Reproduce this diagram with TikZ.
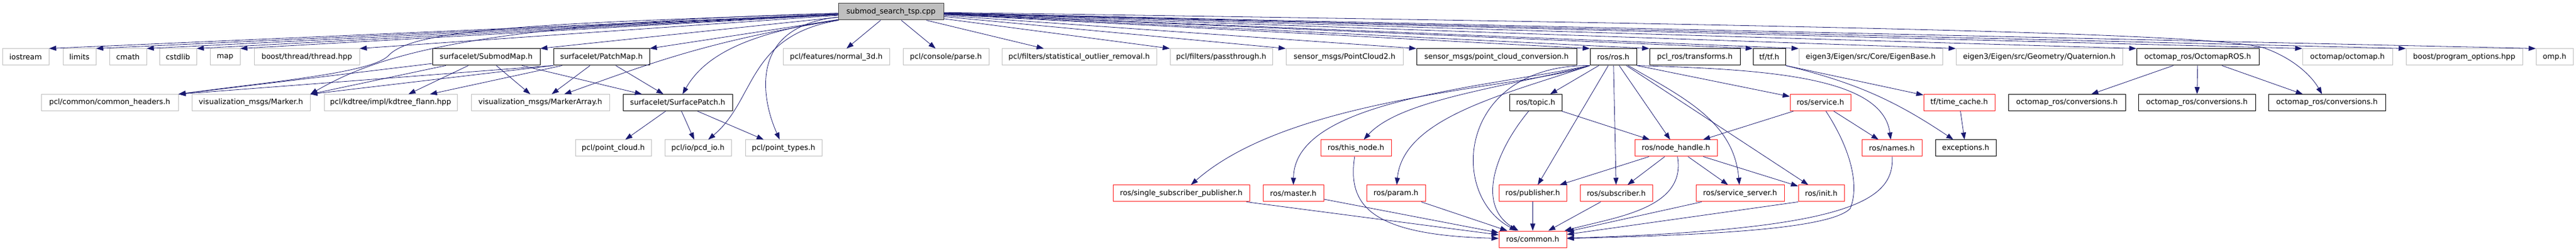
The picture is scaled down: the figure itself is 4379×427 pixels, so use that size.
\documentclass[tikz,border=0pt]{standalone}
\usepackage{fontspec}
\setmainfont{DejaVu Sans}
\usepackage{tikz}
\usetikzlibrary{arrows.meta}
\definecolor{edgeblue}{HTML}{191970}
\definecolor{extgrey}{HTML}{BFBFBF}
\definecolor{missred}{HTML}{FF2020}
\definecolor{rootfill}{HTML}{BFBFBF}
\definecolor{rootline}{HTML}{404040}
\newcommand{\dxfont}{\fontsize{12.6}{15}\selectfont}

\begin{document}
\begin{tikzpicture}[x=1pt,y=-1pt]
\tikzstyle{ext}=[rectangle,draw=extgrey,fill=white,line width=1pt,
minimum height=28pt,inner sep=2pt,font=\dxfont]
\tikzstyle{known}=[ext,draw=black]
\tikzstyle{miss}=[ext,draw=missred]
\tikzstyle{root}=[ext,draw=rootline,fill=rootfill]
\tikzstyle{dep}=[-{Triangle[length=12pt,width=8.5pt]},draw=edgeblue,line width=0.8pt]
\useasboundingbox (0,0) rectangle (4379,427);

\node[root, minimum width=179pt] (main) at (1514.5,20) {submod\_search\_tsp.cpp};

% first row
\node[ext, minimum width=79pt] (iostream) at (43.5,97) {iostream};
\node[ext, minimum width=56pt] (limits) at (135,97) {limits};
\node[ext, minimum width=63pt] (cmath) at (217.5,97) {cmath};
\node[ext, minimum width=63pt] (cstdlib) at (302.5,97) {cstdlib};
\node[ext, minimum width=51pt] (map) at (382.5,97) {map};
\node[ext, minimum width=179pt] (boostthread) at (521.5,97) {boost/thread/thread.hpp};
\node[known, minimum width=183pt] (submodmap) at (826.5,97) {surfacelet/SubmodMap.h};
\node[known, minimum width=163pt] (patchmap) at (1022.5,97) {surfacelet/PatchMap.h};
\node[ext, minimum width=181pt] (normal3d) at (1421.5,97) {pcl/features/normal\_3d.h};
\node[ext, minimum width=146pt] (parse) at (1608,97) {pcl/console/parse.h};
\node[ext, minimum width=263pt] (sor) at (1834.5,97) {pcl/filters/statistical\_outlier\_removal.h};
\node[ext, minimum width=174pt] (passthrough) at (2076,97) {pcl/filters/passthrough.h};
\node[ext, minimum width=199pt] (pointcloud2) at (2285.5,97) {sensor\_msgs/PointCloud2.h};
\node[known, minimum width=272pt] (pcconv) at (2544,97) {sensor\_msgs/point\_cloud\_conversion.h};
\node[known, minimum width=79pt] (rosh) at (2742.5,97) {ros/ros.h};
\node[known, minimum width=154pt] (pclros) at (2881,97) {pcl\_ros/transforms.h};
\node[known, minimum width=55pt] (tfh) at (3007.5,97) {tf/tf.h};
\node[ext, minimum width=244pt] (eigenbase) at (3180,97) {eigen3/Eigen/src/Core/EigenBase.h};
\node[ext, minimum width=283pt] (quaternion) at (3466.5,97) {eigen3/Eigen/src/Geometry/Quaternion.h};
\node[known, minimum width=208pt] (octomapros) at (3736,97) {octomap\_ros/OctomapROS.h};
\node[ext, minimum width=153pt] (octomaph) at (3990.5,97) {octomap/octomap.h};
\node[ext, minimum width=198pt] (progopts) at (4189,97) {boost/program\_options.hpp};
\node[ext, minimum width=63pt] (omp) at (4342.5,97) {omp.h};

% second row
\node[ext, minimum width=233pt] (commonhdr) at (186.5,174.7) {pcl/common/common\_headers.h};
\node[ext, minimum width=201pt] (marker) at (426.5,174.7) {visualization\_msgs/Marker.h};
\node[ext, minimum width=226pt] (kdtree) at (664,174.7) {pcl/kdtree/impl/kdtree\_flann.hpp};
\node[ext, minimum width=235pt] (markerarray) at (918.5,174.7) {visualization\_msgs/MarkerArray.h};
\node[known, minimum width=186pt] (surfpatch) at (1152,174.7) {surfacelet/SurfacePatch.h};
\node[known, minimum width=89pt] (topic) at (2610.5,174.7) {ros/topic.h};
\node[miss, minimum width=103pt] (service) at (3094.5,174.7) {ros/service.h};
\node[miss, minimum width=121pt] (timecache) at (3330.5,174.7) {tf/time\_cache.h};
\node[known, minimum width=199pt] (convA) at (3513.5,174.7) {octomap\_ros/conversions.h};
\node[known, minimum width=199pt] (convB) at (3734.5,174.7) {octomap\_ros/conversions.h};
\node[known, minimum width=199pt] (convC) at (3955.5,174.7) {octomap\_ros/conversions.h};

% third row
\node[ext, minimum width=129pt] (pointcloud) at (1042.5,252) {pcl/point\_cloud.h};
\node[ext, minimum width=113pt] (pcdio) at (1186.5,252) {pcl/io/pcd\_io.h};
\node[ext, minimum width=130pt] (pointtypes) at (1332,252) {pcl/point\_types.h};
\node[miss, minimum width=120pt] (thisnode) at (2305,252) {ros/this\_node.h};
\node[miss, minimum width=140pt] (nodehandle) at (2849,252) {ros/node\_handle.h};
\node[miss, minimum width=102pt] (names) at (3216,252) {ros/names.h};
\node[known, minimum width=103pt] (exceptions) at (3341.5,252) {exceptions.h};

% fourth row
\node[miss, minimum width=232pt] (singlesub) at (2008,329) {ros/single\_subscriber\_publisher.h};
\node[miss, minimum width=103pt] (master) at (2198.5,329) {ros/master.h};
\node[miss, minimum width=100pt] (param) at (2373,329) {ros/param.h};
\node[miss, minimum width=115pt] (publisher) at (2605.5,329) {ros/publisher.h};
\node[miss, minimum width=123pt] (subscriber) at (2747.5,329) {ros/subscriber.h};
\node[miss, minimum width=150pt] (servicesrv) at (2958,329) {ros/service\_server.h};
\node[miss, minimum width=78pt] (init) at (3096,329) {ros/init.h};

\node[miss, minimum width=115pt] (common) at (2605.5,407) {ros/common.h};

% includes of the cpp file
\draw[dep] (main) -- (iostream.north east);
\draw[dep] (main) -- (limits.north east);
\draw[dep] (main) -- (cmath.north east);
\draw[dep] (main) -- (cstdlib.north east);
\draw[dep] (main) -- (map.north east);
\draw[dep] (main) -- (boostthread.north east);
\draw[dep] (main) -- (submodmap.north east);
\draw[dep] (main) -- (patchmap.north east);
\draw[dep] (main) .. controls (900,40) and (700,50) .. (660,95) .. controls (630,125) and (450,140) .. (commonhdr.north east);
\draw[dep] (main) .. controls (800,40) and (640,95) .. (marker.north east);
\draw[dep] (main) .. controls (1200,70) and (1100,110) .. (markerarray);
\draw[dep] (main) .. controls (1280,55) and (1200,90) .. (surfpatch);
\draw[dep] (main) .. controls (1270,60) and (1285,170) .. (pcdio);
\draw[dep] (main) .. controls (1270,45) and (1295,170) .. (pointtypes);
\draw[dep] (main) -- (normal3d);
\draw[dep] (main) -- (parse);
\draw[dep] (main) -- (sor);
\draw[dep] (main) -- (passthrough.north west);
\draw[dep] (main) -- (pointcloud2.north west);
\draw[dep] (main) -- (pcconv.north west);
\draw[dep] (main) -- (rosh.north west);
\draw[dep] (main) -- (pclros.north west);
\draw[dep] (main) -- (tfh.north west);
\draw[dep] (main) -- (eigenbase.north west);
\draw[dep] (main) -- (quaternion.north west);
\draw[dep] (main) -- (octomapros.north west);
\draw[dep] (main) -- (octomaph.north west);
\draw[dep] (main) -- (progopts.north west);
\draw[dep] (main) -- (omp.north west);
\draw[dep] (main) .. controls (3300,45) and (3780,60) .. (3850,82) .. controls (3900,100) and (3930,130) .. (convC);

% surfacelet headers
\draw[dep] (submodmap) -- (commonhdr.north east);
\draw[dep] (submodmap) -- (marker.north east);
\draw[dep] (submodmap) -- (kdtree);
\draw[dep] (submodmap) -- (markerarray);
\draw[dep] (submodmap) -- (surfpatch);
\draw[dep] (patchmap.south west) -- (commonhdr.north east);
\draw[dep] (patchmap.south west) -- (marker.north east);
\draw[dep] (patchmap) -- (kdtree);
\draw[dep] (patchmap) -- (markerarray);
\draw[dep] (patchmap) -- (surfpatch);
\draw[dep] (surfpatch) -- (pointcloud);
\draw[dep] (surfpatch) -- (pcdio);
\draw[dep] (surfpatch) -- (pointtypes);

% ros
\draw[dep] (rosh) -- (topic);
\draw[dep] (rosh) -- (publisher);
\draw[dep] (rosh) -- (subscriber);
\draw[dep] (rosh) -- (nodehandle);
\draw[dep] (rosh) -- (init);
\draw[dep] (rosh.south east) -- (service);
\draw[dep] (rosh) to[out=-30,in=95] (servicesrv);
\draw[dep] (rosh.south west) .. controls (2480,110) and (2460,330) .. (common);
\draw[dep] (rosh.south west) .. controls (2600,150) and (2200,160) .. (singlesub);
\draw[dep] (rosh.south west) .. controls (2520,150) and (2200,170) .. (master);
\draw[dep] (rosh.south west) .. controls (2550,150) and (2380,170) .. (thisnode);
\draw[dep] (rosh.south west) .. controls (2560,160) and (2385,200) .. (param);
\draw[dep] (rosh.south east) .. controls (3000,118) and (3200,130) .. (names);
\draw[dep] (topic) -- (nodehandle);
\draw[dep] (topic) .. controls (2540,260) and (2510,350) .. (common);
\draw[dep] (service) -- (nodehandle);
\draw[dep] (service) -- (names);
\draw[dep] (service) .. controls (3150,260) and (3160,320) .. (3145,355) .. controls (3110,390) and (2900,400) .. (common);
\draw[dep] (nodehandle) -- (publisher);
\draw[dep] (nodehandle) -- (subscriber);
\draw[dep] (nodehandle) -- (servicesrv);
\draw[dep] (nodehandle) -- (init);
\draw[dep] (nodehandle) to[out=-80,in=15] (common);
\draw[dep] (names) .. controls (3220,340) and (3150,390) .. (common);
\draw[dep] (thisnode) .. controls (2290,350) and (2330,400) .. (common);
\draw[dep] (singlesub) -- (common);
\draw[dep] (master) -- (common);
\draw[dep] (param) -- (common);
\draw[dep] (publisher) -- (common);
\draw[dep] (subscriber) -- (common);
\draw[dep] (servicesrv) -- (common);
\draw[dep] (init.south west) -- (common);

% tf and octomap
\draw[dep] (tfh.south east) -- (timecache);
\draw[dep] (tfh.south east) to[bend left=10] (exceptions);
\draw[dep] (timecache) -- (exceptions);
\draw[dep] (octomapros) -- (convA);
\draw[dep] (octomapros) -- (convB);
\draw[dep] (octomapros) -- (convC);
\end{tikzpicture}
\end{document}
